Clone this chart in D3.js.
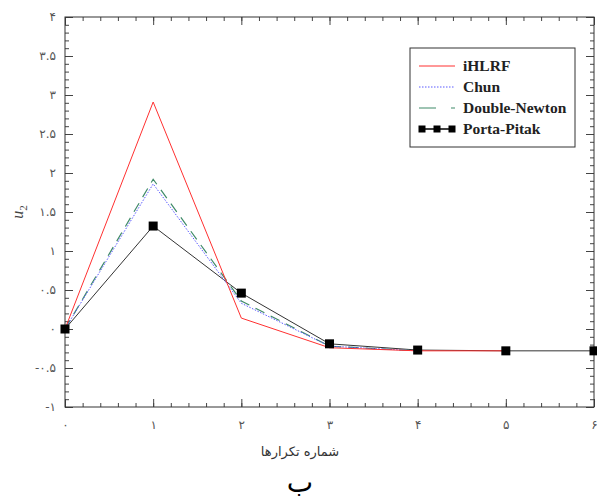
<!DOCTYPE html>
<html>
<head>
<meta charset="utf-8">
<script src="https://cdn.jsdelivr.net/npm/d3@7"></script>
<style>
  body { margin: 0; background: #fff; }
  svg { display: block; }
</style>
</head>
<body>
<script>
var width = 597
var height = 502
var margin = { left: 65, right: 3, top: 17, bottom: 95 }

// data
var iterations = [0, 1, 2, 3, 4, 5, 6]
var iHLRF = [0, 2.91, 0.14, -0.24, -0.28, -0.28]
var chun = [0, 1.86, 0.33, -0.22, -0.28]
var doubleNewton = [0, 1.92, 0.36, -0.22, -0.28]
var portaPitak = [0, 1.32, 0.46, -0.19, -0.27, -0.28, -0.28]
var xTicks = [0, 1, 2, 3, 4, 5, 6]
var yTicks = [-1, -0.5, 0, 0.5, 1, 1.5, 2, 2.5, 3, 3.5, 4]
var seriesNames = ['iHLRF', 'Chun', 'Double-Newton', 'Porta-Pitak']

var persianDigits = '۰۱۲۳۴۵۶۷۸۹'
var toPersian = s => String(s).replace(/[0-9]/g, c => persianDigits[+c])

var innerWidth = width - margin.left - margin.right
var innerHeight = height - margin.top - margin.bottom

var svg = d3.select('body').append('svg').attr('width', width).attr('height', height)

var x = d3.scaleLinear().domain([0, 6]).range([margin.left, margin.left + innerWidth])
var y = d3.scaleLinear().domain([-1, 4]).range([margin.top + innerHeight, margin.top])

var minorX = d3.range(0, 6.001, 0.2).map(d => +d.toFixed(1))
var minorY = d3.range(-1, 4.001, 0.1).map(d => +d.toFixed(1))

var bottom = margin.top + innerHeight
var right = margin.left + innerWidth

function styleAxis(g) {
    g.select('.domain').remove()
    g.selectAll('line').attr('stroke', '#444').attr('stroke-width', 1)
    g.selectAll('text').attr('fill', '#555').attr('font-family', 'DejaVu Sans').attr('font-size', 12)
}
// axes that only carry ticks
function ticksOnly(g) {
    styleAxis(g)
    g.selectAll('text').remove()
}

// minor ticks
svg.append('g').attr('transform', `translate(0,${bottom})`)
    .call(d3.axisBottom(x).tickValues(minorX).tickSize(-4)).call(ticksOnly)
svg.append('g').attr('transform', `translate(0,${margin.top})`)
    .call(d3.axisTop(x).tickValues(minorX).tickSize(-4)).call(ticksOnly)
svg.append('g').attr('transform', `translate(${margin.left},0)`)
    .call(d3.axisLeft(y).tickValues(minorY).tickSize(-4)).call(ticksOnly)
svg.append('g').attr('transform', `translate(${right},0)`)
    .call(d3.axisRight(y).tickValues(minorY).tickSize(-4)).call(ticksOnly)

// major ticks + labels
svg.append('g').attr('transform', `translate(0,${bottom})`)
    .call(d3.axisBottom(x).tickValues(xTicks).tickSize(-8).tickPadding(13).tickFormat(d => toPersian(d))).call(styleAxis)
svg.append('g').attr('transform', `translate(0,${margin.top})`)
    .call(d3.axisTop(x).tickValues(xTicks).tickSize(-8)).call(ticksOnly)
svg.append('g').attr('transform', `translate(${margin.left},0)`)
    .call(d3.axisLeft(y).tickValues(yTicks).tickSize(-8).tickPadding(9).tickFormat(d => toPersian(d))).call(styleAxis)
svg.append('g').attr('transform', `translate(${right},0)`)
    .call(d3.axisRight(y).tickValues(yTicks).tickSize(-8)).call(ticksOnly)

// frame
svg.append('rect').attr('x', margin.left).attr('y', margin.top)
    .attr('width', innerWidth).attr('height', innerHeight)
    .attr('fill', 'none').attr('stroke', '#333').attr('stroke-width', 1)

var line = d3.line().x((d, i) => x(iterations[i])).y(d => y(d))

svg.append('path').datum(portaPitak).attr('d', line)
    .attr('fill', 'none').attr('stroke', '#333').attr('stroke-width', 1)
svg.append('path').datum(doubleNewton).attr('d', line)
    .attr('fill', 'none').attr('stroke', '#3f8a68').attr('stroke-width', 1.2).attr('stroke-dasharray', '10,7')
svg.append('path').datum(chun).attr('d', line)
    .attr('fill', 'none').attr('stroke', '#5a5aff').attr('stroke-width', 1).attr('stroke-dasharray', '1.5,1.5')
svg.append('path').datum(iHLRF).attr('d', line)
    .attr('fill', 'none').attr('stroke', '#ff3030').attr('stroke-width', 1)

svg.append('g').selectAll('rect').data(portaPitak).enter().append('rect')
    .attr('x', (d, i) => x(iterations[i]) - 4.5)
    .attr('y', d => y(d) - 4.5)
    .attr('width', 9).attr('height', 9).attr('fill', '#000')

// legend
var legend = svg.append('g')
legend.append('rect').attr('x', 410).attr('y', 48).attr('width', 165).attr('height', 99)
    .attr('fill', '#fff').attr('stroke', '#333').attr('stroke-width', 1)
var legendStyles = [
    { stroke: '#ff3030', dash: null, width: 1 },
    { stroke: '#5a5aff', dash: '1.5,1.5', width: 1 },
    { stroke: '#3f8a68', dash: '17,15', width: 1.2 },
    { stroke: '#000', dash: null, width: 1.5 }
]
seriesNames.forEach((name, i) => {
    var ly = 66 + i * 21
    var st = legendStyles[i]
    legend.append('line').attr('x1', 419).attr('x2', 455).attr('y1', ly).attr('y2', ly)
        .attr('stroke', st.stroke).attr('stroke-width', st.width).attr('stroke-dasharray', st.dash)
    if (name === 'Porta-Pitak') {
        [422, 437, 452].forEach(mx => {
            legend.append('rect').attr('x', mx - 3.5).attr('y', ly - 3.5).attr('width', 7).attr('height', 7).attr('fill', '#000')
        })
    }
    legend.append('text').attr('x', 463).attr('y', ly).attr('dy', '0.35em')
        .attr('font-family', 'Liberation Serif').attr('font-weight', 'bold').attr('font-size', 15.5)
        .attr('fill', '#222').text(name)
})

// axis titles
svg.append('text').attr('x', 300).attr('y', 451).attr('dy', '0.35em').attr('text-anchor', 'middle')
    .attr('font-family', 'DejaVu Sans').attr('font-size', 13).attr('fill', '#333').attr('direction', 'rtl')
    .text('شماره تکرارها')

var yTitle = svg.append('text').attr('transform', 'translate(23,212) rotate(-90)').attr('text-anchor', 'middle')
    .attr('font-family', 'Liberation Serif').attr('font-size', 16).attr('fill', '#444')
yTitle.append('tspan').attr('font-style', 'italic').text('u')
yTitle.append('tspan').attr('font-size', 11).attr('dy', 4).text('2')

svg.append('text').attr('x', 300).attr('y', 482).attr('dy', '0.35em').attr('text-anchor', 'middle')
    .attr('font-family', 'DejaVu Sans').attr('font-size', 28).attr('fill', '#000')
    .text('ب')
</script>
</body>
</html>
